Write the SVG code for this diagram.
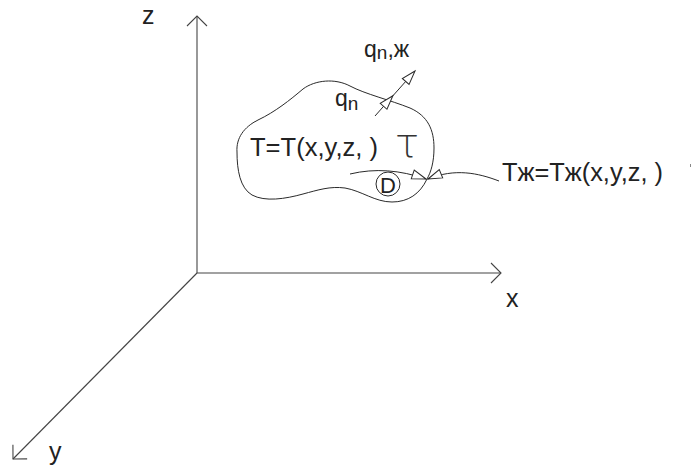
<svg xmlns="http://www.w3.org/2000/svg" width="691" height="465" viewBox="0 0 691 465">
<style>
.ax{fill:none;stroke:#444;stroke-width:1.1}
.ln{fill:none;stroke:#2a2a2a;stroke-width:1}
.t{font-family:"Liberation Sans",Arial,sans-serif;fill:#222}
</style>
<defs>
<marker id="open" markerUnits="userSpaceOnUse" markerWidth="20" markerHeight="20" refX="0" refY="0" orient="auto" style="overflow:visible">
<path d="M-10,-10 L0,0 L-10,10" fill="none" stroke="#444" stroke-width="1.1"/>
</marker>
<marker id="hollow" markerUnits="userSpaceOnUse" markerWidth="20" markerHeight="20" refX="0" refY="0" orient="auto" style="overflow:visible">
<path d="M0,0 L-14,-4.5 L-14,4.5 Z" fill="#fff" stroke="#2a2a2a" stroke-width="1"/>
</marker>
</defs>
<g id="axes">
<line class="ax" x1="197" y1="273" x2="197" y2="16" marker-end="url(#open)"/>
<line class="ax" x1="197" y1="273" x2="501" y2="273" marker-end="url(#open)"/>
<line class="ax" x1="197" y1="273" x2="13" y2="459" marker-end="url(#open)"/>
<text class="t" x="142" y="24" font-size="25">z</text>
<text class="t" x="506" y="307" font-size="25">x</text>
<text class="t" x="49" y="460" font-size="25">y</text>
</g>
<g id="body">
<path class="ln" d="M237,152 C236,138 244,127 258,120 C275,112 290,100 303,89 C315,80 335,78 350,86 C365,94 390,100 410,108 C428,116 434,130 434,148 C434,162 431,172 427,179 C420,194 408,202 392,202 C375,202 362,191 345,188 C330,186 318,190 303,194 C285,199 265,202 252,195 C240,188 237,170 237,152 Z"/>
<text class="t" x="250" y="156" font-size="26" textLength="128" lengthAdjust="spacingAndGlyphs">T=T(x,y,z, )</text>
<text x="395" y="157" font-size="40" font-family="DejaVu Sans, sans-serif" font-weight="200" fill="#333">τ</text>
</g>
<g id="D">
<circle cx="388" cy="184" r="12" fill="none" stroke="#2a2a2a" stroke-width="1"/>
<text class="t" x="388" y="193" font-size="22" text-anchor="middle">D</text>
</g>
<g id="labels">
<text class="t" x="335" y="106" font-size="23">q<tspan font-size="19" dy="4">n</tspan></text>
<text class="t" x="364" y="56.5" font-size="23">q<tspan font-size="19" dy="2">n</tspan><tspan dy="-2">,ж</tspan></text>
<text class="t" x="502" y="181" font-size="26" textLength="161" lengthAdjust="spacingAndGlyphs">Tж=Tж(x,y,z, )</text>
<line x1="690.5" y1="164" x2="690.5" y2="167" stroke="#888" stroke-width="1"/>
</g>
<g id="connectors">
<path class="ln" d="M375,116 L392.9,95.8 L415,71" marker-mid="url(#hollow)" marker-end="url(#hollow)"/>
<path class="ln" d="M350,174 C375,168 400,170 426,179" marker-end="url(#hollow)"/>
<path class="ln" d="M499,181 C478,173 455,168 428,179" marker-end="url(#hollow)"/>
</g>
</svg>
